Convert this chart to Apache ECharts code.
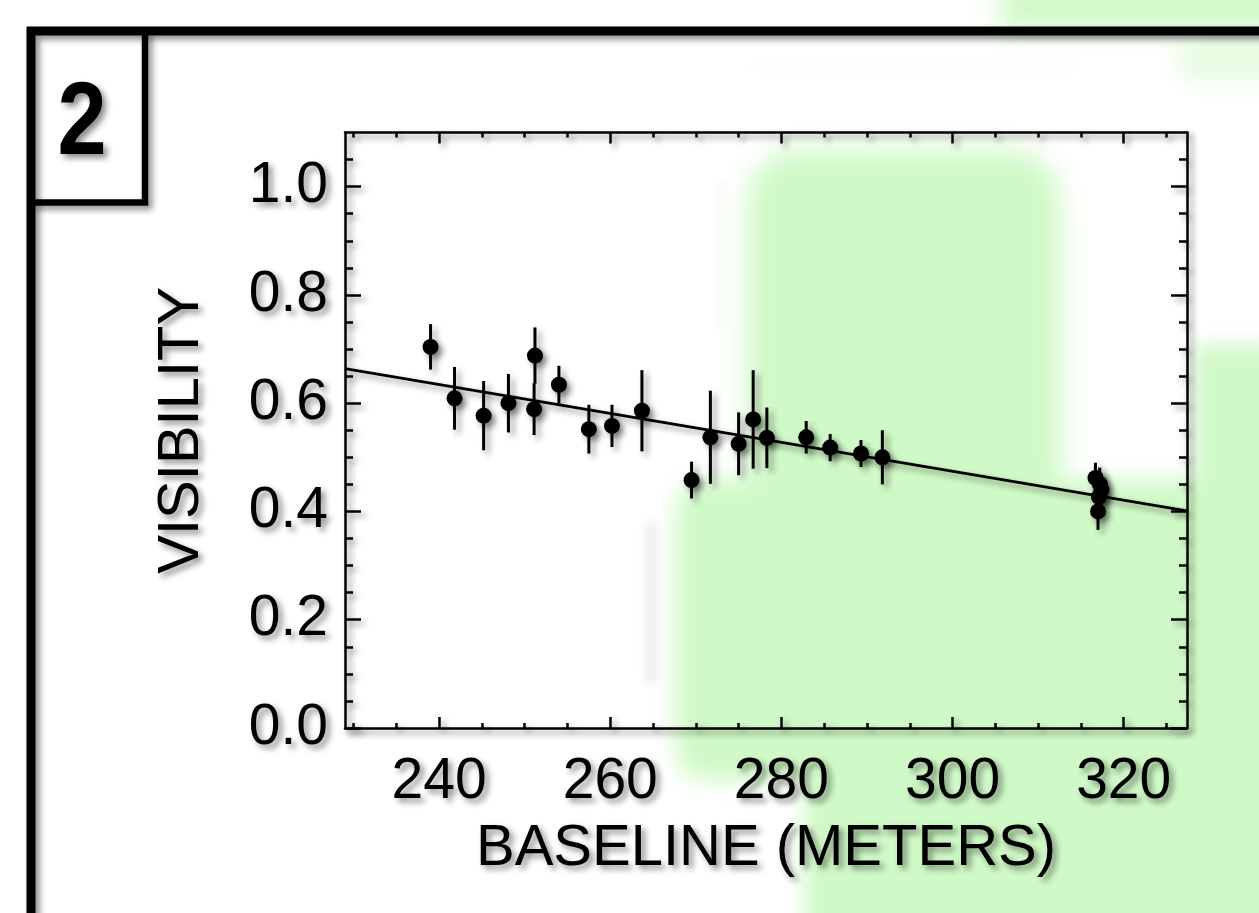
<!DOCTYPE html>
<html>
<head>
<meta charset="utf-8">
<script src="https://cdn.jsdelivr.net/npm/echarts@6/dist/echarts.min.js"></script>
<style>
html,body{margin:0;padding:0;background:#fff;}
#chart{width:1259px;height:913px;}
</style>
</head>
<body>
<div id="chart"></div>
<script>
// ---- data ----
const baseline = [239.0, 241.8, 245.2, 248.1, 251.2, 251.1, 254.0, 257.5, 260.2, 263.7, 269.5, 271.7, 275.0, 276.7, 278.3, 282.9, 285.7, 289.3, 291.8, 316.7, 317.2, 317.4, 317.1, 317.0];
const visibility = [0.704, 0.609, 0.577, 0.600, 0.688, 0.589, 0.634, 0.552, 0.558, 0.586, 0.458, 0.537, 0.525, 0.570, 0.536, 0.537, 0.518, 0.507, 0.500, 0.462, 0.451, 0.440, 0.427, 0.400];
const visError = [0.042, 0.058, 0.064, 0.054, 0.052, 0.048, 0.035, 0.045, 0.039, 0.075, 0.034, 0.086, 0.058, 0.091, 0.056, 0.030, 0.025, 0.025, 0.050, 0.028, 0.030, 0.030, 0.030, 0.034];
const fitBaseline = [229.0, 327.4];
const fitVisibility = [0.664, 0.401];
const xMajorTicks = [240, 260, 280, 300, 320];
const xMinorTicks = [230, 235, 245, 250, 255, 265, 270, 275, 285, 290, 295, 305, 310, 315, 325];
const yMajorTicks = [0.0, 0.2, 0.4, 0.6, 0.8, 1.0];
const yMinorTicks = [0.05, 0.1, 0.15, 0.25, 0.3, 0.35, 0.45, 0.5, 0.55, 0.65, 0.7, 0.75, 0.85, 0.9, 0.95, 1.05];
const xTitle = 'BASELINE (METERS)';
const yTitle = 'VISIBILITY';
const panelLabel = '2';

// ---- styles ----
const FONT = '"Liberation Sans", Arial, Helvetica, sans-serif';
const SH = {shadowColor: 'rgba(0,0,0,0.45)', shadowBlur: 6, shadowOffsetX: 4, shadowOffsetY: 4};
const TSH = {textShadowColor: 'rgba(0,0,0,0.45)', textShadowBlur: 6, textShadowOffsetX: 4, textShadowOffsetY: 4};
const GREEN = 'rgb(207,249,198)';
const OFF = 4000;

const chart = echarts.init(document.getElementById('chart'));

// soft (blurred) background shape: only its shadow falls on the canvas
function softRect(x, y, w, h, r, color, blur) {
  return {type: 'rect', z: -10, shape: {x: x - OFF, y: y, width: w, height: h, r: r},
    style: {fill: color, shadowColor: color, shadowBlur: blur, shadowOffsetX: OFF, shadowOffsetY: 0}};
}

function xAxisDef(position, ticks, len, showLine, showLabel, name) {
  return {
    type: 'value', position: position, min: 229, max: 327.4,
    axisLine: {show: showLine, onZero: false, lineStyle: Object.assign({color: '#000', width: 2.5}, SH)},
    axisTick: {show: true, inside: true, length: len, customValues: ticks,
      lineStyle: Object.assign({color: '#000', width: 2.5}, SH)},
    axisLabel: {show: showLabel, customValues: ticks, margin: 26, color: '#000',
      fontFamily: FONT, fontSize: 57, formatter: v => String(v), ...TSH},
    splitLine: {show: false},
    name: name || '', nameLocation: 'middle', nameGap: 92,
    nameTextStyle: Object.assign({color: '#000', fontFamily: FONT, fontSize: 58}, TSH)
  };
}
function yAxisDef(position, ticks, len, showLine, showLabel, name) {
  return {
    type: 'value', position: position, min: 0, max: 1.1,
    axisLine: {show: showLine, onZero: false, lineStyle: Object.assign({color: '#000', width: 2.5}, SH)},
    axisTick: {show: true, inside: true, length: len, customValues: ticks,
      lineStyle: Object.assign({color: '#000', width: 2.5}, SH)},
    axisLabel: {show: showLabel, customValues: ticks, margin: 17, color: '#000',
      fontFamily: FONT, fontSize: 57, formatter: v => v.toFixed(1), ...TSH},
    splitLine: {show: false},
    name: name || '', nameLocation: 'middle', nameGap: 134, nameRotate: 90,
    nameTextStyle: Object.assign({color: '#000', fontFamily: FONT, fontSize: 58}, TSH)
  };
}

const pts = baseline.map((b, i) => [b, visibility[i], visError[i]]);

const option = {
  animation: false,
  backgroundColor: '#fff',
  grid: {left: 345, top: 132.5, right: 72, bottom: 185, containLabel: false},
  xAxis: [
    xAxisDef('bottom', xMajorTicks, 11, true, true, xTitle),
    xAxisDef('bottom', xMinorTicks, 5, false, false),
    xAxisDef('top', xMajorTicks, 11, true, false),
    xAxisDef('top', xMinorTicks, 5, false, false)
  ],
  yAxis: [
    yAxisDef('left', yMajorTicks, 16, true, true, yTitle),
    yAxisDef('left', yMinorTicks, 8, false, false),
    yAxisDef('right', yMajorTicks, 16, true, false),
    yAxisDef('right', yMinorTicks, 8, false, false)
  ],
  graphic: [
    // blurred green background shapes
    softRect(1000, -40, 320, 70, 0, GREEN, 30),
    softRect(1180, 40, 120, 40, 0, 'rgb(230,252,224)', 25),
    softRect(748, 150, 312, 380, 50, GREEN, 28),
    softRect(676, 480, 640, 300, 30, GREEN, 24),
    softRect(805, 700, 500, 260, 0, GREEN, 20),
    softRect(1195, 345, 100, 620, 0, GREEN, 20),
    // faint gray smudges
    softRect(646, 520, 10, 165, 5, 'rgba(0,0,0,0.28)', 10),
    softRect(716, 180, 10, 150, 5, 'rgba(0,0,0,0.18)', 10),
    softRect(750, 60, 330, 10, 5, 'rgba(0,0,0,0.12)', 12),
    softRect(1200, 340, 60, 8, 4, 'rgba(0,0,0,0.12)', 8),
    // outer panel frame
    {type: 'rect', z: 50, shape: {x: 31, y: 31, width: 1400, height: 1000}, style: Object.assign({fill: null, stroke: '#000', lineWidth: 9}, SH)},
    // panel number box
    {type: 'polyline', z: 50, shape: {points: [[31, 202.5], [145, 202.5], [145, 31]]}, style: Object.assign({fill: null, stroke: '#000', lineWidth: 6.5}, SH)},
    {type: 'text', z: 51, x: 82, y: 125, scaleX: 0.85, style: Object.assign({text: panelLabel, fill: '#000', font: 'bold 104px "Liberation Sans", Arial, sans-serif', align: 'center', verticalAlign: 'middle'}, TSH)}
  ],
  series: [
    {
      type: 'line', xAxisIndex: 0, yAxisIndex: 0, z: 3,
      data: fitBaseline.map((b, i) => [b, fitVisibility[i]]),
      symbol: 'none', lineStyle: Object.assign({color: '#000', width: 2.8}, SH), silent: true
    },
    {
      type: 'custom', xAxisIndex: 0, yAxisIndex: 0, z: 4,
      data: pts,
      renderItem: function (params, api) {
        const x = api.value(0), y = api.value(1), e = api.value(2);
        const p1 = api.coord([x, y - e]);
        const p2 = api.coord([x, y + e]);
        return {type: 'line', shape: {x1: p1[0], y1: p1[1], x2: p2[0], y2: p2[1]},
          style: Object.assign({stroke: '#000', lineWidth: 3}, SH)};
      },
      silent: true
    },
    {
      type: 'scatter', xAxisIndex: 0, yAxisIndex: 0, z: 5,
      data: pts.map(p => [p[0], p[1]]),
      symbol: 'circle', symbolSize: 16,
      itemStyle: Object.assign({color: '#000', opacity: 1}, SH), silent: true
    }
  ]
};
chart.setOption(option);
</script>
</body>
</html>
